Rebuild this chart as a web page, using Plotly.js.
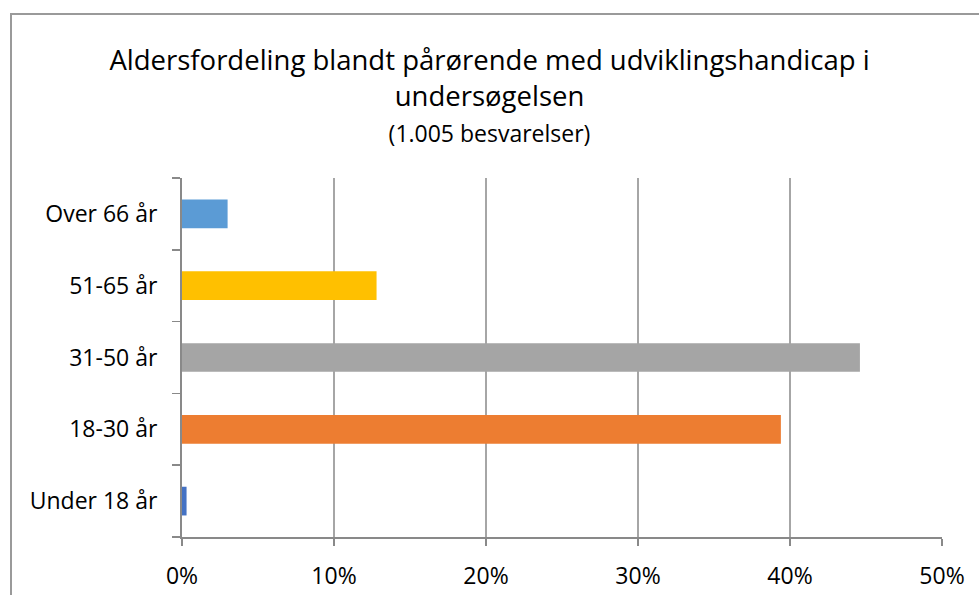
<!DOCTYPE html>
<html>
<head>
<meta charset="utf-8">
<script src="https://cdn.plot.ly/plotly-3.0.1.min.js"></script>
<style>
html,body{margin:0;padding:0;background:#fff;}
#wrap{position:relative;width:979px;height:595px;overflow:hidden;}
#chart{width:979px;height:595px;}
#frame{position:absolute;left:10px;top:13px;width:1000px;height:700px;border-left:2px solid #9a9a9a;border-top:2px solid #9a9a9a;pointer-events:none;}
</style>
</head>
<body>
<div id="wrap"><div id="chart"></div><div id="frame"></div></div>
<script>
const categories = ["Under 18 år", "18-30 år", "31-50 år", "51-65 år", "Over 66 år"];
const values = [0.003, 0.394, 0.446, 0.128, 0.030];
const colors = ["#4472C4", "#ED7D31", "#A5A5A5", "#FFC000", "#5B9BD5"];
const xTicks = [0, 0.1, 0.2, 0.3, 0.4, 0.5];
const xTickLabels = ["0%", "10%", "20%", "30%", "40%", "50%"];

const font = "Open Sans, Liberation Sans, sans-serif";

Plotly.newPlot("chart", [{
  type: "bar",
  orientation: "h",
  y: categories,
  x: values,
  width: 0.4,
  marker: {color: colors},
  hoverinfo: "none"
}], {
  width: 979,
  height: 595,
  margin: {l: 182, r: 37, t: 178, b: 58},
  paper_bgcolor: "#ffffff",
  plot_bgcolor: "#ffffff",
  showlegend: false,
  title: {
    text: "Aldersfordeling blandt pårørende med udviklingshandicap i<br>undersøgelsen<br><span style='font-size:23px'>(1.005 besvarelser)</span>",
    font: {family: font, size: 27.5, color: "#000000"},
    x: 0.5, xanchor: "center",
    y: 0.882, yanchor: "top"
  },
  xaxis: {
    range: [0, 0.5],
    tickvals: xTicks,
    ticktext: xTickLabels,
    showgrid: true,
    gridcolor: "#a6a6a6",
    gridwidth: 1.5,
    showline: true,
    linecolor: "#898989",
    linewidth: 2,
    ticks: "outside",
    ticklen: 7,
    tickcolor: "#898989",
    tickwidth: 1.5,
    zeroline: false,
    tickfont: {family: font, size: 23, color: "#000000"},
    ticklabelstandoff: 10,
    fixedrange: true
  },
  yaxis: {
    type: "category",
    categoryorder: "array",
    categoryarray: categories,
    range: [-0.5, 4.5],
    showgrid: false,
    showline: true,
    linecolor: "#898989",
    linewidth: 2,
    ticks: "outside",
    tickson: "boundaries",
    ticklen: 8,
    tickcolor: "#898989",
    tickwidth: 1.5,
    zeroline: false,
    tickfont: {family: font, size: 23, color: "#000000"},
    ticklabelstandoff: 18,
    fixedrange: true
  }
}, {displayModeBar: false, staticPlot: true});
</script>
</body>
</html>
